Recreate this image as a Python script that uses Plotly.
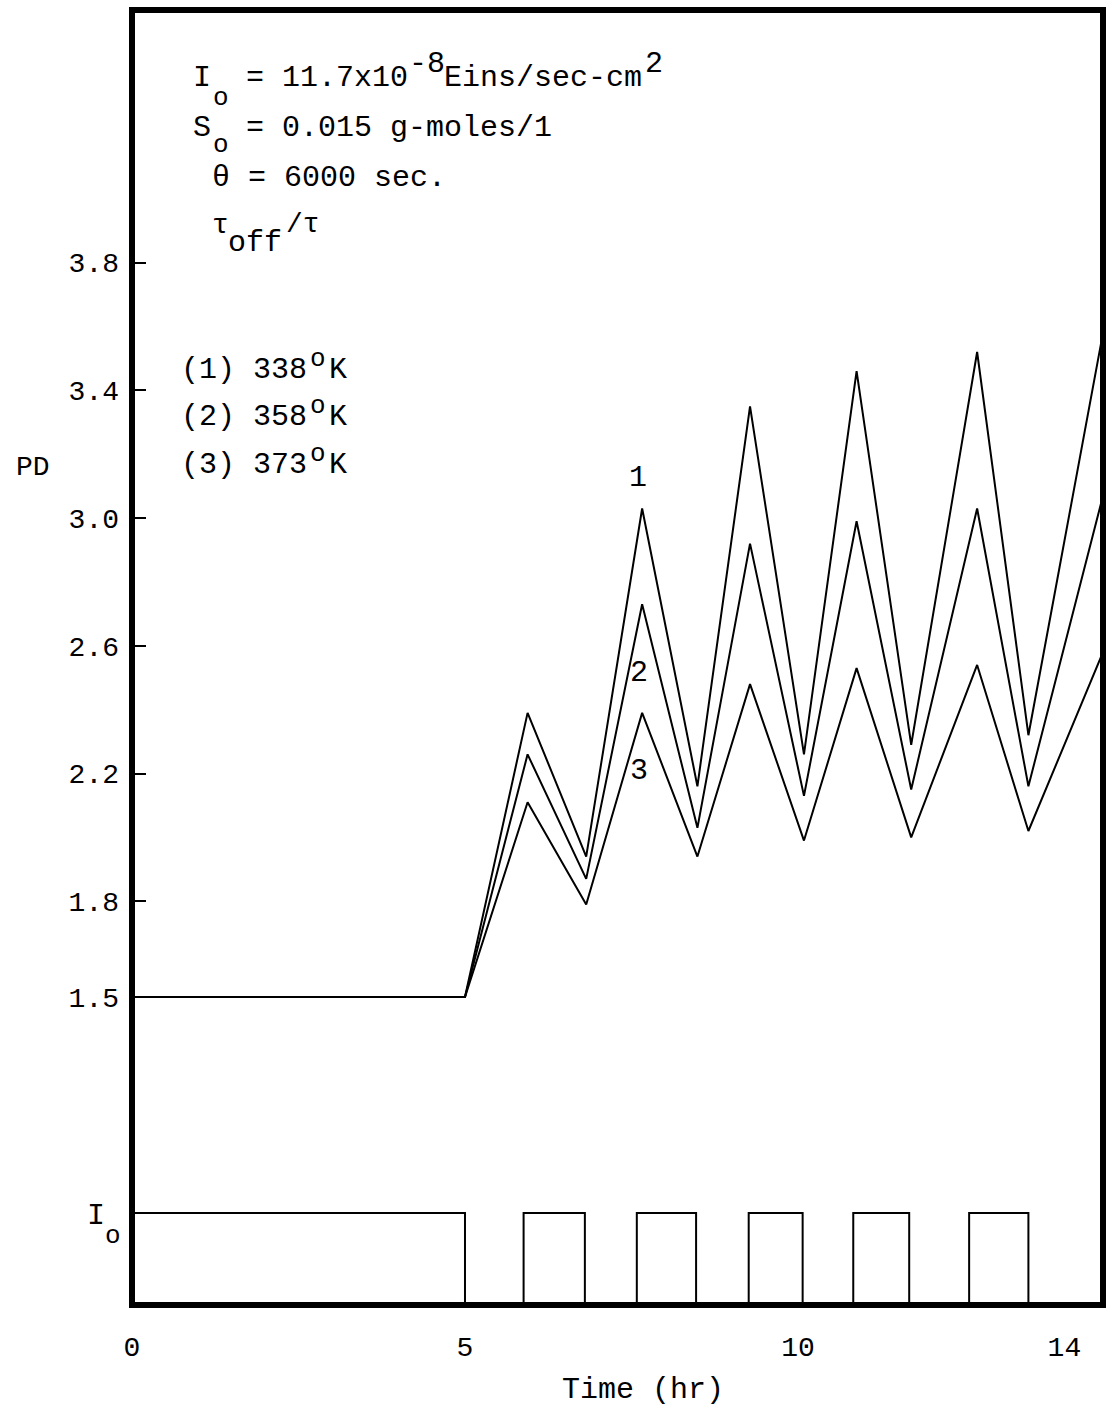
import plotly.graph_objects as go

# ---------------- data ----------------
# time (hr) of the PD curve vertices
t_pd = [0, 5.0, 5.94, 6.82, 7.66, 8.49, 9.28, 10.09, 10.88, 11.70, 12.69, 13.46, 14.58]
pd_338K = [1.5, 1.5, 2.39, 1.94, 3.03, 2.16, 3.35, 2.26, 3.46, 2.29, 3.52, 2.32, 3.58]
pd_358K = [1.5, 1.5, 2.26, 1.87, 2.73, 2.03, 2.92, 2.13, 2.99, 2.15, 3.03, 2.16, 3.07]
pd_373K = [1.5, 1.5, 2.11, 1.79, 2.39, 1.94, 2.48, 1.99, 2.53, 2.00, 2.54, 2.02, 2.58]

# light intensity on/off schedule (1 = I_o on, 0 = off)
t_light = [0, 5.0, 5.88, 6.80, 7.58, 8.47, 9.26, 10.07, 10.83, 11.67, 12.57, 13.46, 14.58]
light = [1, 0, 1, 0, 1, 0, 1, 0, 1, 0, 1, 0, 0]

y_tickvals = [1.5, 1.8, 2.2, 2.6, 3.0, 3.4, 3.8]
y_ticktext = ["1.5", "1.8", "2.2", "2.6", "3.0", "3.4", "3.8"]
x_tickvals = [0, 5, 10, 14]
x_ticktext = ["0", "5", "10", "14"]

curve_labels = ["1", "2", "3"]

# ---------------- layout geometry ----------------
W, H = 1107, 1407
ML, MR, MT, MB = 132, 4, 10, 102
PW = W - ML - MR
PH = H - MT - MB
FONT = "Liberation Mono"
FS = 30


def paper(px, py):
    return (px - ML) / PW, (H - MB - py) / PH


fig = go.Figure()
for ys in (pd_338K, pd_358K, pd_373K):
    fig.add_trace(go.Scatter(x=t_pd, y=ys, mode="lines", xaxis="x", yaxis="y",
                             line=dict(color="black", width=2),
                             hoverinfo="skip", showlegend=False))
fig.add_trace(go.Scatter(x=t_light, y=light, mode="lines", xaxis="x", yaxis="y2",
                         line=dict(color="black", width=2, shape="hv"),
                         hoverinfo="skip", showlegend=False))

annots = []


def txt(s, px, py, size=FS, anchor="left"):
    xp, yp = paper(px, py)
    annots.append(dict(text=s, x=xp, y=yp, xref="paper", yref="paper",
                       xanchor=anchor, yanchor="middle", showarrow=False,
                       borderpad=0,
                       font=dict(family=FONT, size=size, color="black")))


# parameter block
txt("I", 192, 78)
txt("o", 212, 98, size=26)
txt("= 11.7x10", 245, 78)
txt("-8", 408, 64)
txt("Eins/sec-cm", 443, 78)
txt("2", 644, 64)
txt("S", 192, 128)
txt("o", 212, 145, size=26)
txt("= 0.015 g-moles/1", 245, 128)
txt("θ = 6000 sec.", 211, 178)
txt("τ", 211, 226, size=28)
txt("off", 227, 243)
txt("/τ", 285, 224, size=28)

# temperature list
for lab, yc in zip(["(1) 338", "(2) 358", "(3) 373"], [370, 417, 465]):
    txt(lab, 180, yc)
    txt("o", 309, yc - 11, size=26)
    txt("K", 328, yc)

# curve numbers
for lab, (px, py) in zip(curve_labels, [(638, 478), (639, 673), (639, 771)]):
    txt(lab, px, py, anchor="center")

# axis captions
txt("PD", 33, 467, size=28, anchor="center")
txt("I", 86, 1216)
txt("o", 104, 1236, size=26)
txt("Time (hr)", 643, 1390, anchor="center")

fig.update_layout(
    width=W, height=H,
    margin=dict(l=ML, r=MR, t=MT, b=MB, pad=0),
    paper_bgcolor="white", plot_bgcolor="white",
    showlegend=False,
    xaxis=dict(range=[0, 14.58], tickvals=x_tickvals, ticktext=x_ticktext,
               ticks="", showgrid=False, zeroline=False, showline=False,
               anchor="y2", ticklabelstandoff=22,
               tickfont=dict(family=FONT, size=28, color="black")),
    yaxis=dict(domain=[0.14286, 1.0], range=[1.115, 4.591],
               tickvals=y_tickvals, ticktext=y_ticktext,
               ticks="inside", ticklen=14, tickwidth=2, tickcolor="black",
               showgrid=False, zeroline=False, showline=False, anchor="x",
               ticklabelstandoff=12,
               tickfont=dict(family=FONT, size=28, color="black")),
    yaxis2=dict(domain=[0, 0.0888], range=[0, 1.25], showticklabels=False,
                ticks="", showgrid=False, zeroline=False, showline=False,
                anchor="x"),
    annotations=annots,
    shapes=[dict(type="rect", xref="paper", yref="paper", x0=0, x1=1, y0=0, y1=1,
                 line=dict(color="black", width=6), layer="above")],
)

fig.write_html("out.html")
